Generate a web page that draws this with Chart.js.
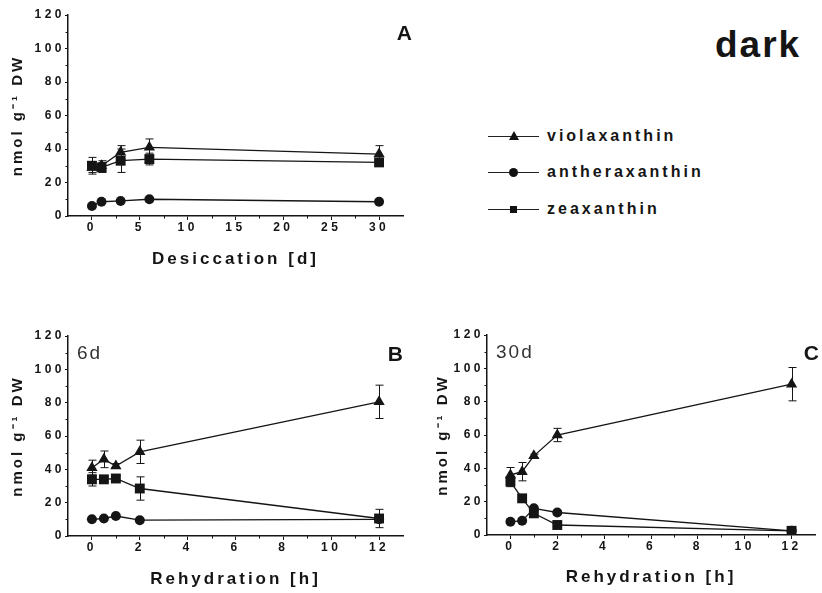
<!DOCTYPE html>
<html>
<head>
<meta charset="utf-8">
<script src="https://cdn.jsdelivr.net/npm/chart.js@4"></script>
<style>
  body { margin: 0; background: #fff; width: 822px; height: 593px; position: relative; overflow: hidden;
         font-family: 'Liberation Sans', Arial, sans-serif; color: #151515; }
  canvas { position: absolute; }
  #dark { position: absolute; left: 715px; top: 26px; font-size: 37px; line-height: 37px; font-weight: bold; letter-spacing: 2px; }
  .row { position: absolute; left: 488px; height: 22px; line-height: 22px; font-size: 16px; font-weight: bold; letter-spacing: 3px; white-space: nowrap; }
  .sym { position: absolute; left: 0; top: 0; width: 51px; height: 22px; }
  .sym .ln { position: absolute; left: 0; width: 51px; top: 11px; height: 1px; background: #222; }
  .sym .mk { position: absolute; }
  .tri { left: 21px; top: 6px; width: 0; height: 0; border-left: 5px solid transparent; border-right: 5px solid transparent; border-bottom: 9px solid #111; }
  .cir { left: 21px; top: 7px; width: 9px; height: 9px; border-radius: 50%; background: #111; }
  .sq  { left: 22px; top: 8px; width: 7px; height: 7px; background: #111; }
  .row span.t { position: absolute; left: 59px; top: 0; }
</style>
</head>
<body>
<canvas id="chartA" width="415" height="285" style="left:0;top:0"></canvas>
<canvas id="chartB" width="415" height="293" style="left:0;top:300px"></canvas>
<canvas id="chartC" width="407" height="293" style="left:415px;top:300px"></canvas>

<div id="dark">dark</div>
<div class="row" style="top:125px"><div class="sym"><div class="ln"></div><div class="mk tri"></div></div><span class="t">violaxanthin</span></div>
<div class="row" style="top:161px"><div class="sym"><div class="ln"></div><div class="mk cir"></div></div><span class="t">antheraxanthin</span></div>
<div class="row" style="top:198px"><div class="sym"><div class="ln"></div><div class="mk sq"></div></div><span class="t">zeaxanthin</span></div>

<script>
// A: desiccation (days)
const daysA = [0, 1, 3, 6, 30];
const violaA = [29, 30, 38, 41, 37];
const violaAErr = [3, 3, 4, 5, 5];
const antheraA = [6, 8.5, 9, 10, 8.5];
const zeaA = [30, 29, 33, 34, 32];
const zeaAErr = [5, 3, 7, 3.5, 2];

// B: rehydration after 6 d (hours)
const hours = [0, 0.5, 1, 2, 12];
const violaB = [41, 46, 42, 50.5, 80.5];
const violaBErr = [4.5, 5, 1.5, 7, 10];
const antheraB = [10, 10.5, 12, 9.5, 10];
const zeaB = [34, 34, 34.5, 28.5, 10.5];
const zeaBErr = [4, 1.5, 1.5, 7, 5.5];

// C: rehydration after 30 d (hours)
const violaC = [36, 38, 47.5, 60, 90.5];
const violaCErr = [4.5, 5.5, 1, 4, 10];
const antheraC = [8, 8.5, 16, 13.5, 2.5];
const zeaC = [32, 22, 13, 6, 2.5];
const zeaCErr = [3, 1, 1.5, 0.5, 0.5];

const yTicks = [0, 20, 40, 60, 80, 100, 120];
const xTicksA = [0, 5, 10, 15, 20, 25, 30];
const xTicksBC = [0, 2, 4, 6, 8, 10, 12];

const INK = '#151515';
const FONT = "'Liberation Sans', Arial, sans-serif";

function pts(xs, ys) {
  return xs.map((x, i) => ({ x: x, y: ys[i] }));
}

function series(xs, viola, violaErr, anthera, zea, zeaErr) {
  const base = { borderColor: INK, backgroundColor: INK, borderWidth: 1.3, pointBorderWidth: 0, tension: 0 };
  return [
    Object.assign({}, base, { label: 'violaxanthin', data: pts(xs, viola), errors: violaErr, pointStyle: 'triangle', pointRadius: 6.5 }),
    Object.assign({}, base, { label: 'antheraxanthin', data: pts(xs, anthera), pointStyle: 'circle', pointRadius: 5 }),
    Object.assign({}, base, { label: 'zeaxanthin', data: pts(xs, zea), errors: zeaErr, pointStyle: 'rect', pointRadius: 7 })
  ];
}

// error bars, drawn under the markers
const errorBars = {
  id: 'errorBars',
  beforeDatasetsDraw(chart) {
    const { ctx, scales: { x, y } } = chart;
    ctx.save();
    ctx.strokeStyle = INK;
    ctx.lineWidth = 1;
    chart.data.datasets.forEach(ds => {
      if (!ds.errors) return;
      ds.data.forEach((p, i) => {
        const e = ds.errors[i];
        if (!e) return;
        const px = Math.round(x.getPixelForValue(p.x)) + 0.5;
        const top = y.getPixelForValue(p.y + e);
        const bot = y.getPixelForValue(p.y - e);
        ctx.beginPath();
        ctx.moveTo(px, top); ctx.lineTo(px, bot);
        ctx.moveTo(px - 4, top); ctx.lineTo(px + 4, top);
        ctx.moveTo(px - 4, bot); ctx.lineTo(px + 4, bot);
        ctx.stroke();
      });
    });
    ctx.restore();
  }
};

// small ticks halfway between the labelled ones
const minorTicks = {
  id: 'minorTicks',
  afterDraw(chart) {
    const { ctx, chartArea, scales: { x, y } } = chart;
    ctx.save();
    ctx.strokeStyle = INK;
    ctx.lineWidth = 1;
    ctx.beginPath();
    const xt = x.ticks.map(t => t.value);
    for (let i = 0; i < xt.length - 1; i++) {
      const px = Math.round(x.getPixelForValue((xt[i] + xt[i + 1]) / 2)) + 0.5;
      ctx.moveTo(px, chartArea.bottom); ctx.lineTo(px, chartArea.bottom + 2.5);
    }
    const yt = y.ticks.map(t => t.value);
    for (let i = 0; i < yt.length - 1; i++) {
      const py = Math.round(y.getPixelForValue((yt[i] + yt[i + 1]) / 2)) + 0.5;
      ctx.moveTo(chartArea.left, py); ctx.lineTo(chartArea.left - 2.5, py);
    }
    ctx.stroke();
    ctx.restore();
  }
};

// panel letter on the right, duration on the left
const corner = {
  id: 'corner',
  afterDraw(chart, args, opts) {
    const { ctx, chartArea } = chart;
    ctx.save();
    ctx.textBaseline = 'middle';
    ctx.fillStyle = INK;
    if (opts.right) {
      ctx.letterSpacing = '0px';
      ctx.font = 'bold 21px ' + FONT;
      ctx.textAlign = 'right';
      ctx.fillText(opts.right, chartArea.right + opts.dx, chartArea.top + 19);
    }
    if (opts.left) {
      ctx.letterSpacing = '2px';
      ctx.font = '19px ' + FONT;
      ctx.fillStyle = '#333';
      ctx.textAlign = 'left';
      ctx.fillText(opts.left, chartArea.left + 9, chartArea.top + 18);
    }
    ctx.restore();
  }
};

// wide letter spacing: on tick labels and axis titles
const spacing = {
  id: 'spacing',
  beforeUpdate(chart) { chart.ctx.letterSpacing = '3.5px'; },
  beforeDraw(chart) {
    chart.ctx.letterSpacing = '3.5px';
    Object.values(chart.scales).forEach(s => {
      if (s._patched) return;
      const orig = s.drawTitle.bind(s);
      s.drawTitle = function () {
        this.ctx.letterSpacing = '3px';
        orig();
        this.ctx.letterSpacing = '3.5px';
      };
      s._patched = true;
    });
  }
};

function makeChart(id, p) {
  const canvas = document.getElementById(id);
  return new Chart(canvas, {
    type: 'line',
    data: { datasets: p.datasets },
    plugins: [spacing, errorBars, minorTicks, corner],
    options: {
      responsive: false,
      animation: false,
      devicePixelRatio: 1,
      layout: { padding: { top: p.top, right: p.right, left: 0, bottom: 0 } },
      plugins: {
        legend: { display: false },
        tooltip: { enabled: false },
        corner: { left: p.cornerLeft, right: p.cornerRight, dx: p.dx }
      },
      scales: {
        x: {
          type: 'linear',
          min: p.xMin, max: p.xMax,
          afterBuildTicks: s => { s.ticks = p.xTicks.map(v => ({ value: v })); },
          afterFit: s => { s.height = p.xHeight; },
          grid: { drawOnChartArea: false, drawTicks: true, tickLength: 4, color: INK, lineWidth: 1 },
          border: { display: true, color: INK, width: 1.5 },
          ticks: { color: INK, padding: 0, maxRotation: 0, font: { family: FONT, size: 12, weight: 'bold' } },
          title: { display: true, text: p.xTitle, color: INK, padding: { top: 0, bottom: p.xTitlePad },
                   font: { family: FONT, size: 17, weight: 'bold' } }
        },
        y: {
          type: 'linear',
          min: 0, max: 120,
          afterBuildTicks: s => { s.ticks = yTicks.map(v => ({ value: v })); },
          afterFit: s => { s.width = p.yWidth; },
          grid: { drawOnChartArea: false, drawTicks: true, tickLength: 3, color: INK, lineWidth: 1 },
          border: { display: true, color: INK, width: 1.5 },
          ticks: { color: INK, padding: 0, font: { family: FONT, size: 12, weight: 'bold' } },
          title: { display: true, text: 'nmol g\u207B\u00B9 DW', color: INK, padding: { top: p.yTitlePad, bottom: 0 },
                   font: { family: FONT, size: 15, weight: 'bold' } }
        }
      }
    }
  });
}

makeChart('chartA', {
  datasets: series(daysA, violaA, violaAErr, antheraA, zeaA, zeaAErr),
  xMin: -2.5, xMax: 32.5, xTicks: xTicksA, xTitle: 'Desiccation [d]',
  top: 15, right: 12, xHeight: 69, yWidth: 68, xTitlePad: 15, yTitlePad: 9,
  cornerLeft: '', cornerRight: 'A', dx: 9
});

makeChart('chartB', {
  datasets: series(hours, violaB, violaBErr, antheraB, zeaB, zeaBErr),
  xMin: -1, xMax: 13, xTicks: xTicksBC, xTitle: 'Rehydration [h]',
  top: 36, right: 12, xHeight: 57, yWidth: 68, xTitlePad: 3, yTitlePad: 9,
  cornerLeft: '6d', cornerRight: 'B', dx: 0
});

makeChart('chartC', {
  datasets: series(hours, violaC, violaCErr, antheraC, zeaC, zeaCErr),
  xMin: -1, xMax: 13, xTicks: xTicksBC, xTitle: 'Rehydration [h]',
  top: 35, right: 3, xHeight: 58, yWidth: 72, xTitlePad: 5, yTitlePad: 19,
  cornerLeft: '30d', cornerRight: 'C', dx: 4
});
</script>
</body>
</html>
